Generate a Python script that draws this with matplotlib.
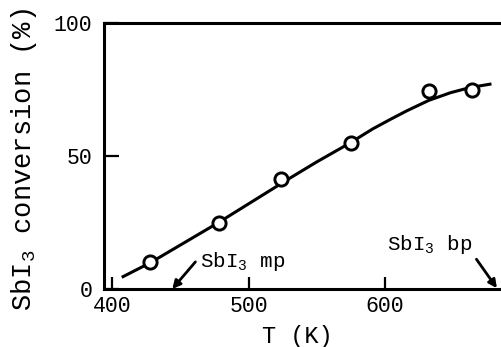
import matplotlib
matplotlib.use("Agg")
import matplotlib.pyplot as plt

plt.rcParams["font.family"] = "Liberation Mono"
plt.rcParams["mathtext.fontset"] = "custom"
plt.rcParams["mathtext.rm"] = "Liberation Mono"
plt.rcParams["mathtext.it"] = "Liberation Mono"

# measured conversion of SbI3 vs temperature
temp_K = [428, 478, 524, 575, 632, 664]
conversion = [10, 25, 41.5, 55, 74.5, 75]

# hand-drawn trend line through the measurements
curve_T = [407, 428, 477, 530, 550, 574, 591, 604, 616, 632, 648, 662, 678]
curve_conv = [4.4, 9.9, 24.7, 41.6, 47.8, 54.8, 60.2, 63.8, 67.0, 70.9, 73.8, 75.7, 77.1]

x_ticks = [400, 500, 600]
y_ticks = [0, 50, 100]

fig = plt.figure(figsize=(5.01, 3.47), dpi=100)
ax = fig.add_axes([0.2076, 0.1671, 0.7924, 0.7666])

ax.plot(curve_T, curve_conv, color="black", lw=2.2, solid_capstyle="butt",
        solid_joinstyle="round")
ax.plot(temp_K, conversion, "o", ms=9.5, mfc="white", mec="black", mew=2.1)

ax.set_xlim(394, 685)
ax.set_ylim(0, 100)
ax.set_xticks(x_ticks)
ax.set_yticks(y_ticks)
ax.tick_params(axis="x", direction="in", length=8.5, width=1.6, pad=5, labelsize=15.5)
ax.tick_params(axis="y", direction="in", length=11, width=1.6, pad=8.5, labelsize=15.5)

for side in ["top", "bottom", "left"]:
    ax.spines[side].set_linewidth(2.2)
ax.spines["right"].set_visible(False)

fig.text(0.048, 0.539, r"SbI$_3$ conversion (%)", rotation=90,
         ha="center", va="center", fontsize=19.5)
fig.text(0.593, 0.03, "T (K)", ha="center", va="center", fontsize=17)

# melting / boiling point markers
arrow = dict(arrowstyle="-|>", color="black", lw=2.0, mutation_scale=12,
             shrinkA=0, shrinkB=0)
ax.annotate("", xy=(444, 0), xytext=(461, 10.2), arrowprops=arrow,
            annotation_clip=False)
ax.text(464.5, 8.3, r"SbI$_3$ mp", fontsize=15, ha="left", va="baseline")
ax.annotate("", xy=(682, 0.3), xytext=(667, 11.2), arrowprops=arrow,
            annotation_clip=False)
ax.text(601.5, 14.7, r"SbI$_3$ bp", fontsize=15, ha="left", va="baseline")

fig.savefig("out.png", dpi=100)
